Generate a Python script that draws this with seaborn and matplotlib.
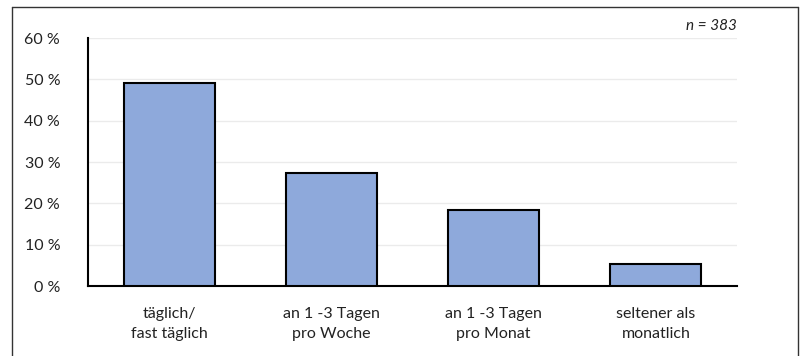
import matplotlib
matplotlib.use("Agg")
import matplotlib.pyplot as plt
from matplotlib.lines import Line2D
import seaborn as sns
import pandas as pd

categories = ["täglich/\nfast täglich", "an 1 -3 Tagen\npro Woche",
              "an 1 -3 Tagen\npro Monat", "seltener als\nmonatlich"]
shares = [49.0, 27.4, 18.4, 5.4]
y_ticks = [0, 10, 20, 30, 40, 50, 60]
y_labels = [f"{v} %" for v in y_ticks]
note = "n = 383"

sns.set_theme(style="white")
plt.rcParams["font.family"] = ["Lato", "DejaVu Sans"]

W, H = 802, 356
fig = plt.figure(figsize=(W / 100, H / 100), dpi=100)
ax = fig.add_axes([88 / W, 1 - 286 / H, (737 - 88) / W, (286 - 38) / H])

df = pd.DataFrame({"cat": categories, "share": shares})
sns.barplot(data=df, x="cat", y="share", ax=ax, color="#8EA9DB",
            saturation=1, width=0.56, edgecolor="black", linewidth=1.5,
            zorder=3)

ax.set_ylim(0, 60)
ax.set_xlim(-0.5, len(categories) - 0.5)
ax.set_yticks(y_ticks)
ax.set_yticklabels(y_labels)
ax.yaxis.grid(True, color="#EBEBEB", linewidth=1.0, zorder=0)
ax.set_axisbelow(True)
ax.set_xlabel("")
ax.set_ylabel("")
ax.tick_params(axis="y", length=0, pad=20, labelsize=11.5, colors="#222222")
ax.tick_params(axis="x", length=0, pad=15, labelsize=11.5, colors="#222222")
for lbl in ax.get_xticklabels():
    lbl.set_linespacing(1.6)

for side in ("top", "right"):
    ax.spines[side].set_visible(False)
for side in ("left", "bottom"):
    ax.spines[side].set_color("black")
    ax.spines[side].set_linewidth(1.5)

ax.text(1.0, 1.0 + 12 / 248, note, transform=ax.transAxes, ha="right",
        va="center", fontsize=11, fontstyle="italic", color="#222222")

# outer frame
fx = lambda px: px / W
fy = lambda py: 1 - py / H
frame = dict(color="#333333", linewidth=1.0)
fig.add_artist(Line2D([fx(12), fx(797.5)], [fy(7), fy(7)], **frame))
fig.add_artist(Line2D([fx(12), fx(12)], [fy(7), 0], **frame))
fig.add_artist(Line2D([fx(797.5), fx(797.5)], [fy(7), 0], **frame))

fig.savefig("out.png", dpi=100)
